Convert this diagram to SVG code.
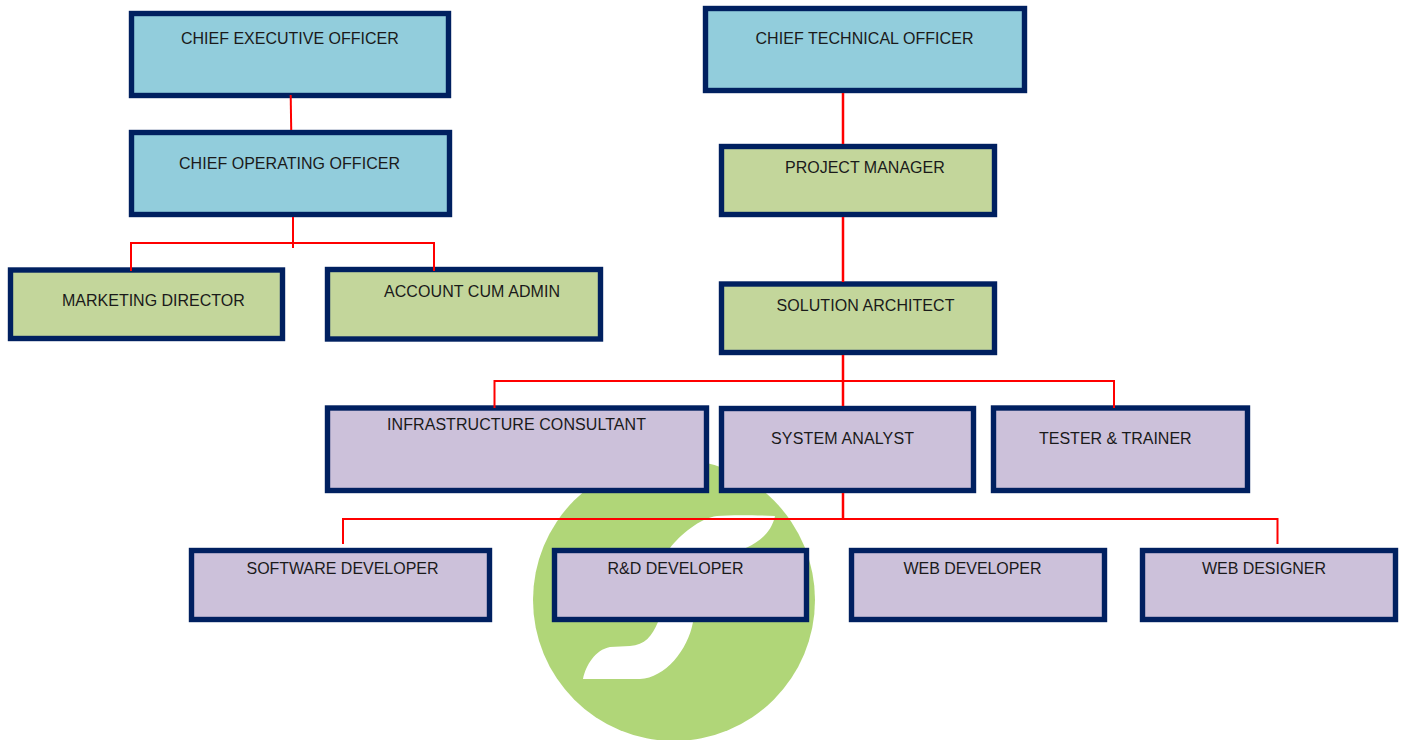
<svg xmlns="http://www.w3.org/2000/svg" width="1404" height="740" viewBox="0 0 1404 740">
<style>
.b{stroke:#002060;stroke-width:5.4}
.blue{fill:#92cddc}
.green{fill:#c3d69b}
.purple{fill:#ccc1da}
text{font-family:"Liberation Sans",Arial,sans-serif;font-size:16px;fill:#1a1a1a}
.c{fill:none;stroke:#ff0000;stroke-width:2}
.t{fill:none;stroke:#ff0000;stroke-width:2.5}
</style>
<rect width="1404" height="740" fill="#fff"/>
<g id="logo">
<circle cx="674" cy="600" r="141" fill="#b0d678"/>
<path fill="#fff" d="M775 516 C750 515 730 515 717 516 C700 518 680 535 670 548 L658 622 C652 636 645 645 630 646 L610 647 C595 650 586 665 583 679 L640 679 C665 678 688 650 693 622 C697 600 705 570 730 553 C745 550 770 540 775 516Z"/>
</g>
<g id="ceo"><rect class="b blue" x="131.500" y="13.500" width="317" height="82"/><text x="181" y="44">CHIEF EXECUTIVE OFFICER</text></g>
<g id="coo"><rect class="b blue" x="131.500" y="132.500" width="318" height="82"/><text x="179" y="169" textLength="221">CHIEF OPERATING OFFICER</text></g>
<g id="cto"><rect class="b blue" x="705.500" y="8.500" width="319" height="82"/><text x="755.500" y="44" textLength="218">CHIEF TECHNICAL OFFICER</text></g>
<g id="pm"><rect class="b green" x="721.500" y="146.500" width="273" height="68"/><text x="785" y="173">PROJECT MANAGER</text></g>
<g id="sa"><rect class="b green" x="721.500" y="284" width="273" height="68.500"/><text x="776.500" y="311" textLength="178">SOLUTION ARCHITECT</text></g>
<g id="md"><rect class="b green" x="10.500" y="270" width="272" height="68.500"/><text x="62" y="306">MARKETING DIRECTOR</text></g>
<g id="acc"><rect class="b green" x="327.500" y="269.500" width="273" height="69.500"/><text x="384" y="297" textLength="176">ACCOUNT CUM ADMIN</text></g>
<g id="infra"><rect class="b purple" x="327.500" y="408" width="379" height="82.500"/><text x="387" y="430" textLength="259">INFRASTRUCTURE CONSULTANT</text></g>
<g id="sys"><rect class="b purple" x="721.500" y="408.500" width="252" height="82"/><text x="771" y="444" textLength="143">SYSTEM ANALYST</text></g>
<g id="test"><rect class="b purple" x="993.500" y="408" width="254" height="82.500"/><text x="1039" y="444">TESTER &amp; TRAINER</text></g>
<g id="sw"><rect class="b purple" x="191.500" y="550.500" width="298" height="69"/><text x="246.500" y="574" textLength="192">SOFTWARE DEVELOPER</text></g>
<g id="rd"><rect class="b purple" x="554.500" y="550.500" width="252" height="69"/><text x="607.500" y="574">R&amp;D DEVELOPER</text></g>
<g id="web"><rect class="b purple" x="851.500" y="550.500" width="253" height="69"/><text x="903.500" y="574" textLength="138">WEB DEVELOPER</text></g>
<g id="wd"><rect class="b purple" x="1142.500" y="550.500" width="253" height="69"/><text x="1202" y="574" textLength="124">WEB DESIGNER</text></g>
<g id="connectors">
<path class="c" d="M290.700 95L291.200 130"/>
<path class="c" d="M293 217V248"/>
<path class="c" d="M131 271V243H434V271"/>
<path class="t" d="M843 93V144"/>
<path class="t" d="M843 217V282"/>
<path class="t" d="M843 355V406"/>
<path class="c" d="M494.500 408V381H1114V408"/>
<path class="t" d="M843 493V519"/>
<path class="c" d="M343 544V519H1277.500V544"/>
</g>
</svg>
